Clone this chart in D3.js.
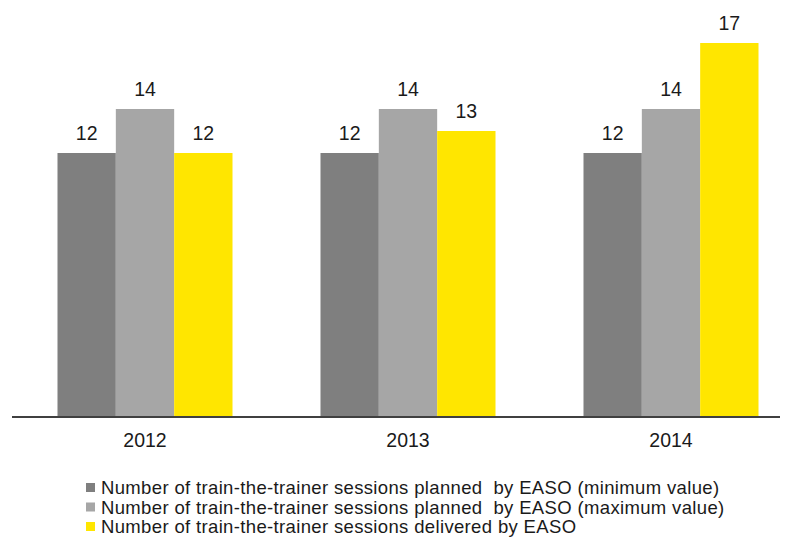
<!DOCTYPE html>
<html>
<head>
<meta charset="utf-8">
<script src="https://cdn.jsdelivr.net/npm/d3@7"></script>
<style>
  body { margin: 0; background: #fff; }
  text { font-family: "Liberation Sans", Arial, sans-serif; fill: #1a1a1a; white-space: pre; }
</style>
</head>
<body>
<div id="canvas"></div>
<script>
"use strict"

/* Data */
let years = ["2012", "2013", "2014"];
let seriesNames = [
    "Number of train-the-trainer sessions planned  by EASO (minimum value)",
    "Number of train-the-trainer sessions planned  by EASO (maximum value)",
    "Number of train-the-trainer sessions delivered by EASO"
];
let minPlanned = [12, 12, 12];
let maxPlanned = [14, 14, 14];
let delivered = [12, 13, 17];
let colors = ["#7f7f7f", "#a6a6a6", "#ffe600"];

/* Drawing config */
let svgWidth = 791;
let svgHeight = 541;
let baseY = 417;

let svg = d3.select("#canvas")
    .append("svg")
    .attr("width", svgWidth)
    .attr("height", svgHeight);

let seriesValues = [minPlanned, maxPlanned, delivered];
let keys = [0, 1, 2];

let xGroup = d3.scaleBand()
    .domain(years)
    .range([13.5, 802.5]);

let xBar = d3.scaleBand()
    .domain(keys)
    .range([44, 219]);

let yScale = d3.scaleLinear()
    .domain([0, 17])
    .range([baseY, baseY - 17 * 22]);

let groups = svg.selectAll("g.year")
    .data(years)
    .join("g")
    .attr("class", "year")
    .attr("transform", d => "translate(" + xGroup(d) + ",0)");

groups.selectAll("rect")
    .data((d, i) => keys.map(k => ({ k: k, v: seriesValues[k][i] })))
    .join("rect")
    .attr("x", d => xBar(d.k))
    .attr("width", xBar.bandwidth())
    .attr("y", d => yScale(d.v))
    .attr("height", d => baseY - yScale(d.v))
    .attr("fill", d => colors[d.k]);

// value labels above bars
groups.selectAll("text.val")
    .data((d, i) => keys.map(k => ({ k: k, v: seriesValues[k][i] })))
    .join("text")
    .attr("class", "val")
    .attr("x", d => xBar(d.k) + xBar.bandwidth() / 2)
    .attr("y", d => yScale(d.v) - 13)
    .attr("text-anchor", "middle")
    .style("font-size", "19.5px")
    .text(d => d.v);

/* x axis */
let xAxis = svg.append("g")
    .attr("transform", "translate(0," + baseY + ")")
    .call(d3.axisBottom(xGroup).tickSize(0).tickPadding(16));

xAxis.select(".domain")
    .attr("d", "M12,0H780")
    .attr("stroke", "#404040")
    .attr("stroke-width", 2);

xAxis.selectAll("text")
    .style("font-size", "19.5px")
    .style("font-family", "'Liberation Sans', Arial, sans-serif")
    .attr("fill", "#1a1a1a");

/* legend */
let legendX = 86;
let legendY = 487.5;
let legend = svg.selectAll("g.legend")
    .data(seriesNames)
    .join("g")
    .attr("class", "legend")
    .attr("transform", (d, i) => "translate(" + legendX + "," + (legendY + i * 19.5) + ")");

legend.append("rect")
    .attr("x", 0)
    .attr("y", -4.5)
    .attr("width", 9)
    .attr("height", 9)
    .attr("fill", (d, i) => colors[i]);

legend.append("text")
    .attr("x", 15)
    .attr("y", 0)
    .attr("dominant-baseline", "central")
    .style("font-size", "18.5px")
    .style("letter-spacing", "0.35px")
    .text(d => d);
</script>
</body>
</html>
